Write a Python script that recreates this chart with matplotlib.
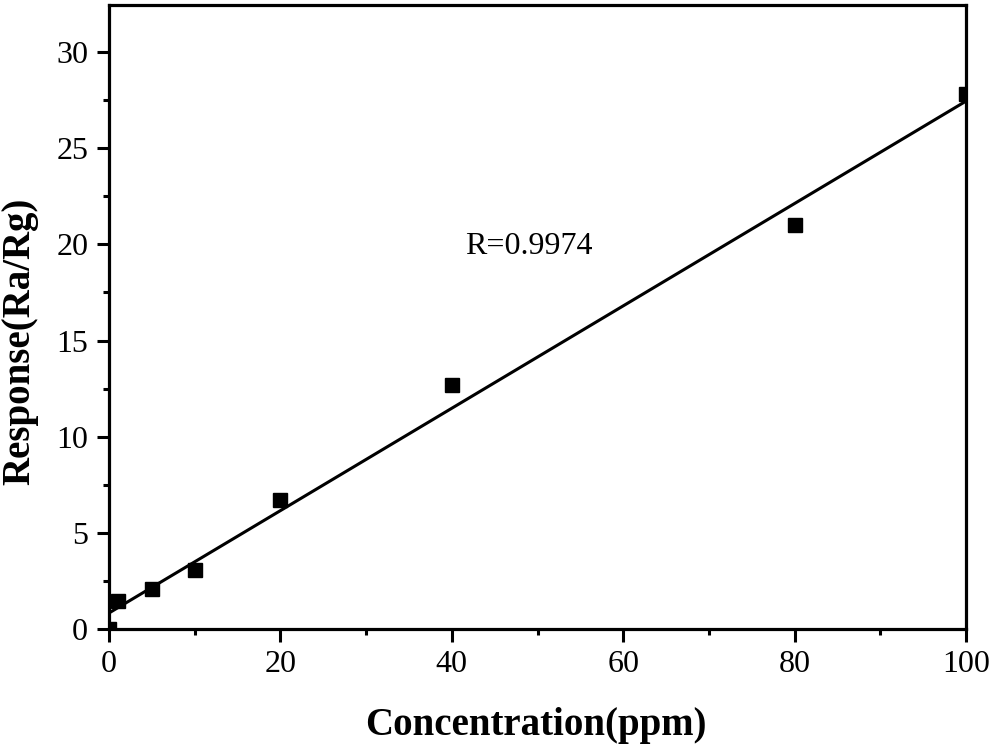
import matplotlib
matplotlib.use("Agg")
import matplotlib.pyplot as plt
import numpy as np
from matplotlib.ticker import MultipleLocator

plt.rcParams['font.family'] = ['Liberation Serif', 'DejaVu Serif']

concentration = [0, 1, 5, 10, 20, 40, 80, 100]
response = [0.0, 1.45, 2.1, 3.05, 6.7, 12.7, 21.0, 27.8]
annotation = "R=0.9974"
xlabel = "Concentration(ppm)"
ylabel = "Response(Ra/Rg)"

fig = plt.figure(figsize=(9.92, 7.5), dpi=100)
ax = fig.add_axes([109/992, 1 - 629/750, (966-109)/992, (629-5)/750])

x = np.array(concentration, dtype=float)
y = np.array(response, dtype=float)
k, b = np.polyfit(x, y, 1)
xf = np.array([0.0, 100.0])
ax.plot(xf, k * xf + b, color='black', lw=2.2, zorder=2)
ax.plot(x, y, 's', color='black', markersize=10, zorder=3, clip_on=True)

ax.set_xlim(0, 100)
ax.set_ylim(0, 32.45)
ax.xaxis.set_major_locator(MultipleLocator(20))
ax.xaxis.set_minor_locator(MultipleLocator(10))
ax.yaxis.set_major_locator(MultipleLocator(5))
ax.yaxis.set_minor_locator(MultipleLocator(2.5))

for s in ax.spines.values():
    s.set_linewidth(2.3)
    s.set_zorder(4)
ax.tick_params(which='major', direction='out', length=9, width=2.2, labelsize=23, pad=6)
ax.tick_params(which='minor', direction='out', length=4.5, width=2.2)
ax.tick_params(top=False, right=False)

ax.text(41.5, 19.9, annotation, fontsize=23, ha='left', va='center')

ax.set_xlabel(xlabel, fontsize=28, fontweight='bold')
ax.set_ylabel(ylabel, fontsize=28, fontweight='bold')
ax.xaxis.set_label_coords(0.498, (629 - 707) / 624)
ax.yaxis.set_label_coords((38 - 109) / 857, 0.4615)

fig.savefig("out.png", dpi=100)
